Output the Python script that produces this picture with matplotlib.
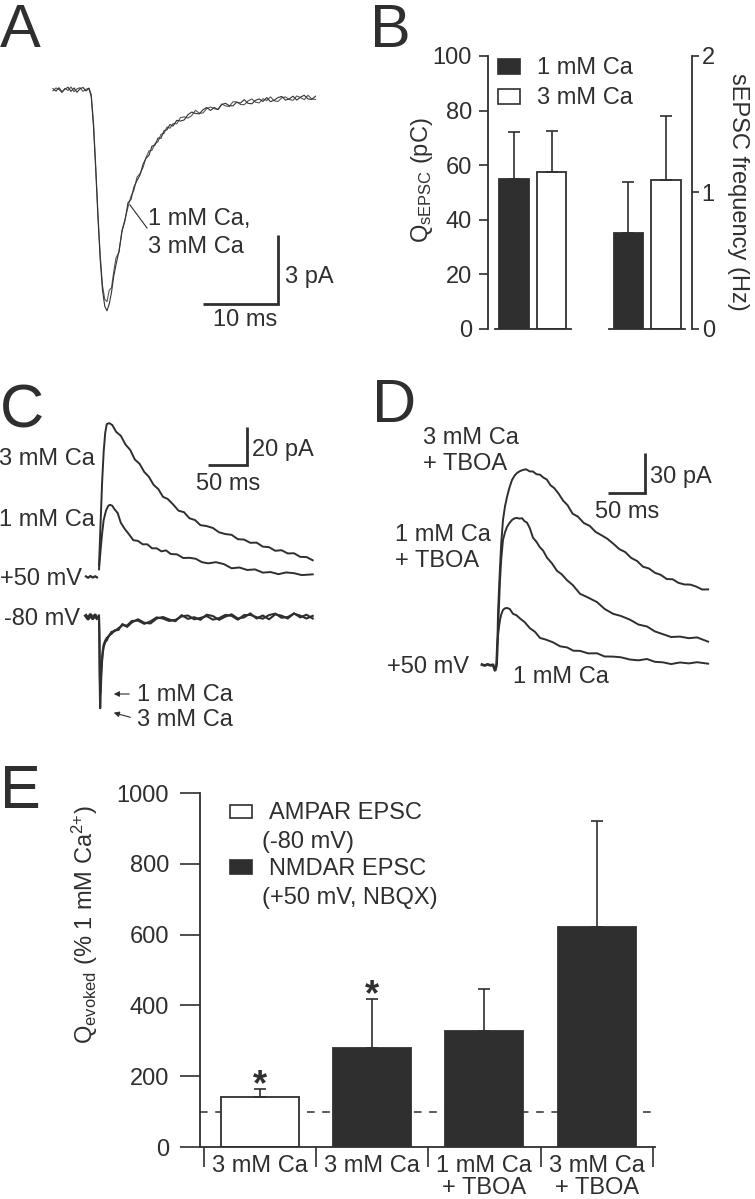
import matplotlib.pyplot as plt
from matplotlib.patches import Rectangle, FancyArrowPatch
from matplotlib.lines import Line2D

plt.rcParams['font.family'] = ['Liberation Sans', 'DejaVu Sans']
plt.rcParams['mathtext.fontset'] = 'custom'
plt.rcParams['mathtext.rm'] = 'Liberation Sans'
plt.rcParams['mathtext.it'] = 'Liberation Sans:italic'
plt.rcParams['mathtext.bf'] = 'Liberation Sans:bold'

INK = '#2f2f2f'
W, H = 755, 1199

# ---------------- data ----------------
# A: normalised sEPSC traces (ms, pA)
tA = [0.0, 0.4, 0.8, 1.2, 1.6, 2.0, 2.4, 2.8, 3.2, 3.6, 4.0, 4.4, 4.8,
      5.1, 5.4, 5.7, 6.0, 6.3, 6.6, 6.9, 7.2, 7.5, 7.8, 8.1, 8.4,
      8.8, 9.2, 9.6, 10.0, 10.4, 10.8, 11.2, 11.6, 12.0, 12.4, 12.8, 13.2,
      13.6, 14.0, 14.4, 14.8, 15.2, 15.6, 16.0,
      16.5, 17.0, 17.5, 18.0, 18.5, 19.0, 19.5, 20.0, 20.5, 21.0, 21.5,
      22.0, 22.5, 23.0, 23.5, 24.0, 24.5, 25.0, 25.5, 26.0, 26.5, 27.0,
      27.5, 28.0, 28.5, 29.0, 29.5, 30.0, 30.5, 31.0, 31.5, 32.0, 32.5,
      33.0, 33.5, 34.0, 34.5, 35.0]
a_1mM = [0.06, -0.05, 0.10, -0.08, 0.04, 0.12, -0.06, 0.09, -0.10, 0.05, 0.11, -0.04, 0.07,
         -0.3, -1.6, -3.5, -5.6, -7.4, -8.7, -9.4, -9.6, -9.3, -8.8, -8.1, -7.6,
         -7.0, -6.15, -5.68, -4.9, -4.76, -4.21, -3.94, -3.7, -3.23, -2.97, -2.84, -2.44,
         -2.4, -2.09, -2.1, -1.77, -1.73, -1.5, -1.57,
         -1.32, -1.35, -1.30, -1.07, -0.96, -1.02, -1.04, -0.86, -0.76, -0.89, -0.76,
         -0.85, -0.63, -0.58, -0.68, -0.69, -0.53, -0.57, -0.42, -0.58, -0.60, -0.45,
         -0.39, -0.50, -0.33, -0.51, -0.44, -0.33, -0.28, -0.44, -0.39, -0.27, -0.44,
         -0.31, -0.23, -0.39, -0.41, -0.27]
a_3mM = [-0.04, 0.09, 0.02, -0.11, 0.07, -0.02, 0.13, -0.07, 0.05, 0.10, -0.06, 0.03, 0.08,
         -0.2, -1.4, -3.3, -5.4, -7.2, -8.5, -9.1, -9.2, -8.7, -8.6, -7.9, -7.3,
         -7.06, -6.1, -5.62, -5.09, -4.62, -4.35, -3.79, -3.63, -3.38, -2.94, -2.65, -2.62,
         -2.33, -2.25, -1.93, -1.89, -1.61, -1.66, -1.46,
         -1.47, -1.20, -1.17, -1.22, -1.11, -0.88, -1.01, -1.00, -0.81, -0.74, -0.81,
         -0.85, -0.61, -0.69, -0.72, -0.51, -0.52, -0.63, -0.64, -0.48, -0.39, -0.53,
         -0.56, -0.38, -0.46, -0.30, -0.47, -0.50, -0.34, -0.30, -0.41, -0.45, -0.26,
         -0.33, -0.42, -0.23, -0.39, -0.41]
scale_A = (10, 3)  # ms, pA

# B: sEPSC charge (pC) and frequency (Hz)
b_conditions = ['1 mM Ca', '3 mM Ca']
q_mean = [55.0, 57.5]
q_err = [17.0, 15.0]
f_mean = [0.70, 1.09]
f_err = [0.38, 0.47]

# C: evoked EPSCs at +50 mV and -80 mV (ms, pA)
tC_base = [-16.7, -14.0, -11.0, -8.0, -5.0, -2.6]
c_base50 = [0.3, -0.4, 0.5, -0.3, 0.4, -0.2]
c_base80 = [0.6, -0.9, 1.1, -0.7, 0.9, -0.5]
tC_3mM = [0, 2, 4, 6, 8, 10, 13, 17, 22, 28, 34, 40, 46, 52, 58, 64, 70, 76, 82, 88,
          95, 102, 109, 116, 123, 130, 138, 146, 154, 162, 170, 178, 186, 194, 202,
          210, 218, 226, 234, 242, 250, 258, 266, 274]
c50_3mM = [6, 28, 50, 66, 76, 80.5, 81, 80.0, 76.4, 74.3, 69.7, 66.9, 61.8, 59.6, 55.3,
           52.7, 48.5, 46.3, 42.2, 41.1, 38.2, 34.9, 34.1, 30.9, 30.0, 27.3, 26.8, 25.8,
           23.5, 22.6, 22.2, 19.9, 19.7, 18.0, 18.1, 16.0, 15.7, 13.8, 14.1, 12.4, 12.5,
           10.6, 10.5, 8.8]
tC_1mM = [0, 2, 4, 6, 9, 12, 14, 17, 20, 24, 28, 33, 38, 44, 50, 56, 62, 68, 74, 80,
          86, 92, 100, 108, 116, 124, 132, 140, 150, 160, 170, 180, 190, 200, 210, 220,
          230, 240, 250, 260, 274]
c50_1mM = [4, 14, 23, 30, 35, 37.5, 38, 37.5, 35.6, 33.6, 28.5, 25.3, 22.7, 19.4, 19.0,
           17.2, 17.2, 15.1, 15.1, 13.5, 14.0, 12.1, 11.9, 10.0, 10.1, 9.6, 7.8, 7.2,
           7.8, 6.8, 4.6, 5.0, 3.7, 4.0, 2.3, 2.6, 1.5, 2.4, 2.0, 1.0, 1.4]
tC_80 = [0, 0.5, 1, 1.5, 2, 3, 4, 5, 6, 8, 10, 13, 16, 20, 25, 30, 36, 42, 50, 58,
         66, 74, 82, 90, 98, 106, 114, 122, 130, 138, 146, 154, 162, 170, 178, 186,
         194, 202, 210, 218, 226, 234, 242, 250, 258, 266, 274]
c80_3mM = [-1.0, -12, -36, -48, -42, -30, -23, -18.5, -15.8, -13.2, -12.3, -9.6, -8.9,
           -7.0, -6.8, -3.7, -5.2, -2.9, -1.2, -3.0, -3.4, -0.8, 0.0, -1.3, -2.2, 1.0,
           -1.0, -0.1, -1.5, 1.2, 0.5, -1.5, 0.2, 1.4, -0.8, -0.2, 1.9, -0.8, 0.8, -1.2,
           1.4, 0.7, -0.8, 2.0, -0.2, 1.2, -0.8]
c80_1mM = [0.8, -9, -30, -40, -36, -27, -21, -17, -14.6, -12.4, -11.0, -9.9, -7.8, -7.5,
           -5.9, -4.3, -4.5, -2.1, -1.9, -3.6, -2.3, -0.2, -0.8, -2.1, -1.5, 0.3, 0.8,
           -1.2, -0.5, 0.5, -1.4, -0.6, 1.1, 0.6, -1.4, 1.0, 1.1, -0.1, -0.9, 1.0, 1.8,
           -0.4, 0.0, 1.7, 0.7, -0.8, 0.6]
scale_C = (50, 20)

# D: NMDAR EPSCs at +50 mV with TBOA (ms, pA)
tD_base = [-17.6, -14.0, -10.0, -6.0, -2.7, 0.0]
d_base = [0.3, -0.4, 0.5, -0.3, 0.2, -3.7]
tD_3T = [0, 1.5, 2.7, 4.1, 5.5, 6.8, 8.5, 10.8, 13.5, 16.2, 19.5, 23, 26.5, 29.7, 34,
         37.8, 42, 47, 51.4, 56, 61, 65, 70, 75, 80, 86, 92, 98, 105, 112, 120, 128,
         136, 144, 152, 160, 168, 176, 184, 192, 200, 208, 216, 224, 232, 240, 248,
         256, 264, 272, 280, 288]
d_3T = [-3.7, -2, 1.5, 39, 58, 73.5, 92, 108.8, 119, 126, 133, 138.8, 142, 144, 145.5,
        146.3, 146.8, 145.2, 145.1, 143.1, 142.7, 140.7, 139.1, 134.8, 132.7, 128.5,
        123.3, 119.9, 113.4, 111.3, 106.5, 104.3, 99.8, 97.3, 94.6, 90.9, 86.9, 84.7,
        80.3, 78.0, 73.7, 72.4, 69.2, 67.6, 64.5, 64.3, 61.6, 60.4, 60.3, 58.8, 56.6,
        56.7]
tD_1T = [0, 1.5, 2.7, 4.1, 5.5, 6.8, 8.5, 10.8, 13.5, 16.2, 19.5, 23, 26.5, 29.7, 33,
         36.5, 40, 43.2, 47, 51.4, 56, 60.8, 65, 70.3, 77, 83.8, 90, 97.3, 105, 114.9,
         125, 137.8, 148, 159.5, 170, 182.4, 194, 205.4, 216, 227, 238, 250, 262, 273,
         280, 288]
d_1T = [-3.7, -2, 2, 26.3, 46, 63.8, 80, 93.8, 99.5, 103.5, 106.5, 108.8, 110, 110.3,
        109.8, 110.1, 107.8, 106.8, 102.7, 95.4, 92.4, 88.2, 85.8, 80.5, 76.2, 70.6,
        68.1, 63.6, 60.0, 53.4, 50.8, 47.2, 42.1, 38.4, 36.8, 34.0, 30.3, 28.9, 25.2,
        23.1, 21.0, 21.3, 20.1, 20.7, 19.2, 17.5]
tD_1 = [0, 1.5, 2.7, 4.1, 5.5, 6.8, 8.5, 10.8, 13.5, 16.2, 20, 24.3, 29, 33.8, 40,
        47.3, 54, 60.8, 69, 78.4, 88, 97.3, 106, 114.9, 126, 137.8, 148, 159.5, 170,
        182.4, 194, 205.4, 216, 227, 238, 250, 262, 273, 288]
d_1 = [-3.7, -2, 13.5, 22, 29, 33.8, 38, 41.3, 42.5, 42.8, 42.0, 38.4, 37.3, 34.9, 32.2,
       27.5, 24.9, 20.3, 19.0, 17.0, 14.0, 13.2, 10.7, 10.6, 8.7, 8.8, 6.4, 6.3, 5.8,
       4.1, 3.5, 4.5, 2.4, 2.0, 0.7, 1.9, 1.2, 2.1, 1.0]
scale_D = (50, 30)

# E: evoked charge relative to 1 mM Ca
e_labels = ['3 mM Ca', '3 mM Ca', '1 mM Ca\n+ TBOA', '3 mM Ca\n+ TBOA']
e_mean = [141, 280, 329, 621]
e_err = [23, 139, 117, 301]
e_significant = [True, True, False, False]
e_receptor = ['AMPAR', 'NMDAR', 'NMDAR', 'NMDAR']


def box(x0, y0, x1, y1):
    return [x0 / W, 1 - y1 / H, (x1 - x0) / W, (y1 - y0) / H]


def fx(x):
    return x / W


def fy(y):
    return 1 - y / H


def label(x, y, s, size=17, **kw):
    fig.text(fx(x), fy(y), s, color=INK, fontsize=size, va='baseline', **kw)


def scale_bar(ax, corner, lengths):
    t0, i0 = corner
    dt, di = lengths
    ax.plot([t0 - dt, t0, t0], [i0, i0, i0 + di], color=INK, lw=2.0,
            solid_joinstyle='miter', solid_capstyle='butt')


fig = plt.figure(figsize=(7.55, 11.99), dpi=100)

# ---------------- A ----------------
axA = fig.add_axes(box(40, 60, 340, 340))
axA.set_xlim(-1.733, 38.27)
axA.set_ylim(-10.87, 1.304)
axA.axis('off')
axA.plot(tA, a_3mM, color='#555555', lw=0.8)
axA.plot(tA, a_1mM, color='#333333', lw=0.8)
scale_bar(axA, (30.0, -9.30), scale_A)
fig.add_artist(Line2D([fx(130), fx(147)], [fy(205), fy(228)], color=INK, lw=0.8))
label(148, 225, '1 mM Ca,')
label(148, 253, '3 mM Ca')
label(285, 283, '3 pA')
label(245, 326, '10 ms', ha='center')

# ---------------- B ----------------
axB = fig.add_axes(box(488, 56, 692, 329))
axB2 = axB.twinx()
axB.set_xlim(-0.391, 1.391)
axB.set_ylim(0, 100)
axB2.set_ylim(0, 2)
off, bw = 0.164, 0.258
ekw = dict(ecolor=INK, elinewidth=1.2, capsize=4, capthick=1.2)
fills = [INK, 'white']
for k in range(2):
    axB.bar(0 + (2 * k - 1) * off, q_mean[k], bw, yerr=[[0], [q_err[k]]],
            color=fills[k], edgecolor=INK, linewidth=1.3, error_kw=ekw)
    axB2.bar(1 + (2 * k - 1) * off, f_mean[k], bw, yerr=[[0], [f_err[k]]],
             color=fills[k], edgecolor=INK, linewidth=1.3, error_kw=ekw)
axB.plot([-0.33, 0.33], [0, 0], color=INK, lw=1.3, clip_on=False)
axB2.plot([0.67, 1.33], [0, 0], color=INK, lw=1.3, clip_on=False)
for a in (axB, axB2):
    for s in ('top', 'bottom'):
        a.spines[s].set_visible(False)
    a.tick_params(axis='x', bottom=False, labelbottom=False)
axB.spines['right'].set_visible(False)
axB2.spines['left'].set_visible(False)
axB.spines['left'].set_linewidth(1.3)
axB2.spines['right'].set_linewidth(1.3)
axB.spines['left'].set_color(INK)
axB2.spines['right'].set_color(INK)
axB.set_yticks(range(0, 101, 20))
axB2.set_yticks([0, 1, 2])
axB.tick_params(axis='y', length=6.5, width=1.2, pad=5, labelsize=17, colors=INK)
axB2.tick_params(axis='y', length=5, width=1.2, pad=2, labelsize=17, colors=INK)
axB.set_ylabel(r'Q$_{\mathrm{sEPSC}}$ (pC)', fontsize=17, color=INK)
axB.yaxis.label.set(va='center', ha='center')
axB.yaxis.set_label_coords(-0.324, 0.546)
axB2.set_ylabel('sEPSC frequency (Hz)', fontsize=17, color=INK, rotation=270)
axB2.yaxis.label.set(va='center', ha='center')
axB2.yaxis.set_label_coords(1.225, 0.502)
for k, (y0, y1) in enumerate([(59, 74), (89, 104)]):
    fig.add_artist(Rectangle((fx(498), fy(y1)), 22 / W, (y1 - y0) / H,
                             facecolor=fills[k], edgecolor=INK, lw=1.2))
    label(537, (y0 + y1) / 2 + 8, b_conditions[k])

# ---------------- C ----------------
axC = fig.add_axes(box(80, 400, 330, 740))
axC.set_xlim(-24.36, 296.15)
axC.set_ylim(-85.79, 93.16)
axC.axis('off')
off80 = -21.05
axC.plot(tC_base, c_base50, color=INK, lw=1.6)
axC.plot(tC_base, [v + off80 for v in c_base80], color=INK, lw=2.6)
axC.plot(tC_3mM, c50_3mM, color=INK, lw=1.4)
axC.plot(tC_1mM, c50_1mM, color=INK, lw=1.4)
axC.plot(tC_80, [v + off80 for v in c80_3mM], color=INK, lw=1.5)
axC.plot(tC_80, [v + off80 for v in c80_1mM], color=INK, lw=1.5)
scale_bar(axC, (189.7, 58.9), scale_C)
label(95, 465, '3 mM Ca', ha='right')
label(95, 526, '1 mM Ca', ha='right')
label(82, 585, '+50 mV', ha='right')
label(80, 625, '-80 mV', ha='right')
label(252, 456, '20 pA')
label(228, 490, '50 ms', ha='center')
label(137, 701, '1 mM Ca')
label(137, 726, '3 mM Ca')
for (xa, ya), (xb, yb) in [((132, 694), (111, 694)), ((133, 718), (111, 712))]:
    fig.add_artist(FancyArrowPatch((fx(xa), fy(ya)), (fx(xb), fy(yb)),
                                   transform=fig.transFigure, arrowstyle='-|>',
                                   mutation_scale=8, color=INK, lw=0.8))

# ---------------- D ----------------
axD = fig.add_axes(box(470, 400, 720, 700))
axD.set_xlim(-33.78, 304.05)
axD.set_ylim(-26.25, 198.75)
axD.axis('off')
axD.plot(tD_base, d_base, color=INK, lw=2.0)
axD.plot(tD_3T, d_3T, color=INK, lw=1.4)
axD.plot(tD_1T, d_1T, color=INK, lw=1.4)
axD.plot(tD_1, d_1, color=INK, lw=1.4)
scale_bar(axD, (202.7, 129.0), scale_D)
label(423, 444, '3 mM Ca')
label(423, 470, '+ TBOA')
label(395, 541, '1 mM Ca')
label(395, 567, '+ TBOA')
label(387, 673, '+50 mV')
label(513, 683, '1 mM Ca')
label(650, 483, '30 pA')
label(627, 518, '50 ms', ha='center')

# ---------------- E ----------------
axE = fig.add_axes(box(200, 793, 655, 1147))
axE.set_xlim(-0.534, 3.52)
axE.set_ylim(0, 1000)
xe = list(range(len(e_mean)))
e_fill = ['white' if r == 'AMPAR' else INK for r in e_receptor]
axE.axhline(100, ls=(0, (5, 5)), color=INK, lw=1.1, zorder=0.5)
axE.bar(xe, e_mean, 0.695, yerr=[[0] * len(e_err), e_err], color=e_fill,
        edgecolor=INK, linewidth=1.3, zorder=2,
        error_kw=dict(ecolor=INK, elinewidth=1.2, capsize=4.5, capthick=1.2))
for i in xe:
    if e_significant[i]:
        axE.annotate('*', (i, e_mean[i] + e_err[i]), xytext=(0, -4.7),
                     textcoords='offset points', ha='center', va='baseline',
                     fontsize=26, fontweight='bold', color=INK)
for s in ('top', 'right'):
    axE.spines[s].set_visible(False)
for s in ('left', 'bottom'):
    axE.spines[s].set_linewidth(1.3)
    axE.spines[s].set_color(INK)
axE.set_yticks(range(0, 1001, 200))
axE.tick_params(axis='y', length=14.4, width=1.2, pad=8, labelsize=17, colors=INK)
axE.set_xticks(xe)
axE.set_xticklabels(e_labels, linespacing=1.0)
axE.set_xticks([-0.5, 0.5, 1.5, 2.5, 3.5], minor=True)
axE.tick_params(axis='x', which='major', length=0, pad=6, labelsize=17, colors=INK)
axE.tick_params(axis='x', which='minor', length=14.4, width=1.2, color=INK)
axE.set_ylabel(r'Q$_{\mathrm{evoked}}$ (% 1 mM Ca$^{2{+}}$)', fontsize=17, color=INK)
axE.yaxis.label.set(va='center', ha='center')
axE.yaxis.set_label_coords(-0.253, 0.627)
legE = [((805, 818), 'white', 'AMPAR EPSC', '(-80 mV)', 811),
        ((860, 874), INK, 'NMDAR EPSC', '(+50 mV, NBQX)', 867)]
for (y0, y1), fc, l1, l2, yc in legE:
    fig.add_artist(Rectangle((fx(230), fy(y1)), 22 / W, (y1 - y0) / H,
                             facecolor=fc, edgecolor=INK, lw=1.2))
    label(269, yc + 8, l1)
    label(262, yc + 37, l2)

# panel letters
for x, y, s in [(0, 47, 'A'), (370, 47, 'B'), (0, 427, 'C'), (372, 422, 'D'),
                (0, 808, 'E')]:
    label(x, y, s, size=44)

fig.savefig('out.png', dpi=100)
